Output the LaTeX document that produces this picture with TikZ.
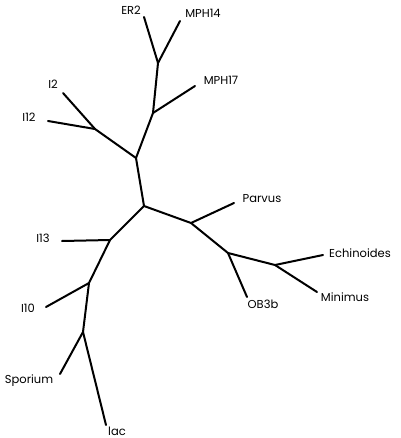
\documentclass[tikz,border=0pt]{standalone}
\usepackage{fontspec}
\setmainfont{Poppins}

\begin{document}
\begin{tikzpicture}[x=1pt,y=-1pt]
  \tikzset{BranchStyle/.style = {
    draw          = black,
    line width    = 2pt,
    line cap      = round
    }
  }
  \tikzset{LeafStyle/.style = {
    shape         = rectangle,
    text          = black,
    inner sep     = 0pt,
    outer sep     = 0pt,
    font          = \fontsize{11.5}{13}\selectfont
    }
  }
  \useasboundingbox (0,0) rectangle (400,438);

	\coordinate (Root) at (144, 206);
	\coordinate (A1) at (136, 158);
	\coordinate (A2) at (153, 113);
	\coordinate (A3) at (158, 63);
	\coordinate (A4) at (95, 129);
	\coordinate (B1) at (191, 223);
	\coordinate (B2) at (228, 253);
	\coordinate (B3) at (275, 265);
	\coordinate (C1) at (110, 240);
	\coordinate (C2) at (89, 283);
	\coordinate (C3) at (83, 332);
	\coordinate (tER2) at (144, 17);
	\coordinate (tMPH14) at (180, 21);
	\coordinate (tMPH17) at (195, 86);
	\coordinate (tI2) at (63, 93);
	\coordinate (tI12) at (48, 121);
	\coordinate (tParvus) at (234, 203);
	\coordinate (tOB3b) at (247, 297);
	\coordinate (tEchinoides) at (323, 255);
	\coordinate (tMinimus) at (317, 292);
	\coordinate (tI13) at (62, 241);
	\coordinate (tI10) at (46, 307);
	\coordinate (tSporium) at (60, 374);
	\coordinate (tlac) at (106, 425);
	\node[LeafStyle](ER2) at (131, 10) {ER2};
	\node[LeafStyle](MPH14) at (203, 13) {MPH14};
	\node[LeafStyle](MPH17) at (221, 80) {MPH17};
	\node[LeafStyle](I2) at (53, 84) {I2};
	\node[LeafStyle](I12) at (29, 117) {I12};
	\node[LeafStyle](Parvus) at (262, 199) {Parvus};
	\node[LeafStyle](Echinoides) at (360, 253) {Echinoides};
	\node[LeafStyle](Minimus) at (345, 297) {Minimus};
	\node[LeafStyle](OB3b) at (263, 304) {OB3b};
	\node[LeafStyle](I13) at (43, 238) {I13};
	\node[LeafStyle](I10) at (28, 308) {I10};
	\node[LeafStyle](Sporium) at (29, 381) {Sporium};
	\node[LeafStyle](lac) at (117, 431) {lac};
	\draw[BranchStyle](Root) -- (A1);
	\draw[BranchStyle](A1) -- (A2);
	\draw[BranchStyle](A2) -- (A3);
	\draw[BranchStyle](A3) -- (tER2);
	\draw[BranchStyle](A3) -- (tMPH14);
	\draw[BranchStyle](A2) -- (tMPH17);
	\draw[BranchStyle](A1) -- (A4);
	\draw[BranchStyle](A4) -- (tI2);
	\draw[BranchStyle](A4) -- (tI12);
	\draw[BranchStyle](Root) -- (B1);
	\draw[BranchStyle](B1) -- (tParvus);
	\draw[BranchStyle](B1) -- (B2);
	\draw[BranchStyle](B2) -- (tOB3b);
	\draw[BranchStyle](B2) -- (B3);
	\draw[BranchStyle](B3) -- (tEchinoides);
	\draw[BranchStyle](B3) -- (tMinimus);
	\draw[BranchStyle](Root) -- (C1);
	\draw[BranchStyle](C1) -- (tI13);
	\draw[BranchStyle](C1) -- (C2);
	\draw[BranchStyle](C2) -- (tI10);
	\draw[BranchStyle](C2) -- (C3);
	\draw[BranchStyle](C3) -- (tSporium);
	\draw[BranchStyle](C3) -- (tlac);

\end{tikzpicture}
\end{document}
